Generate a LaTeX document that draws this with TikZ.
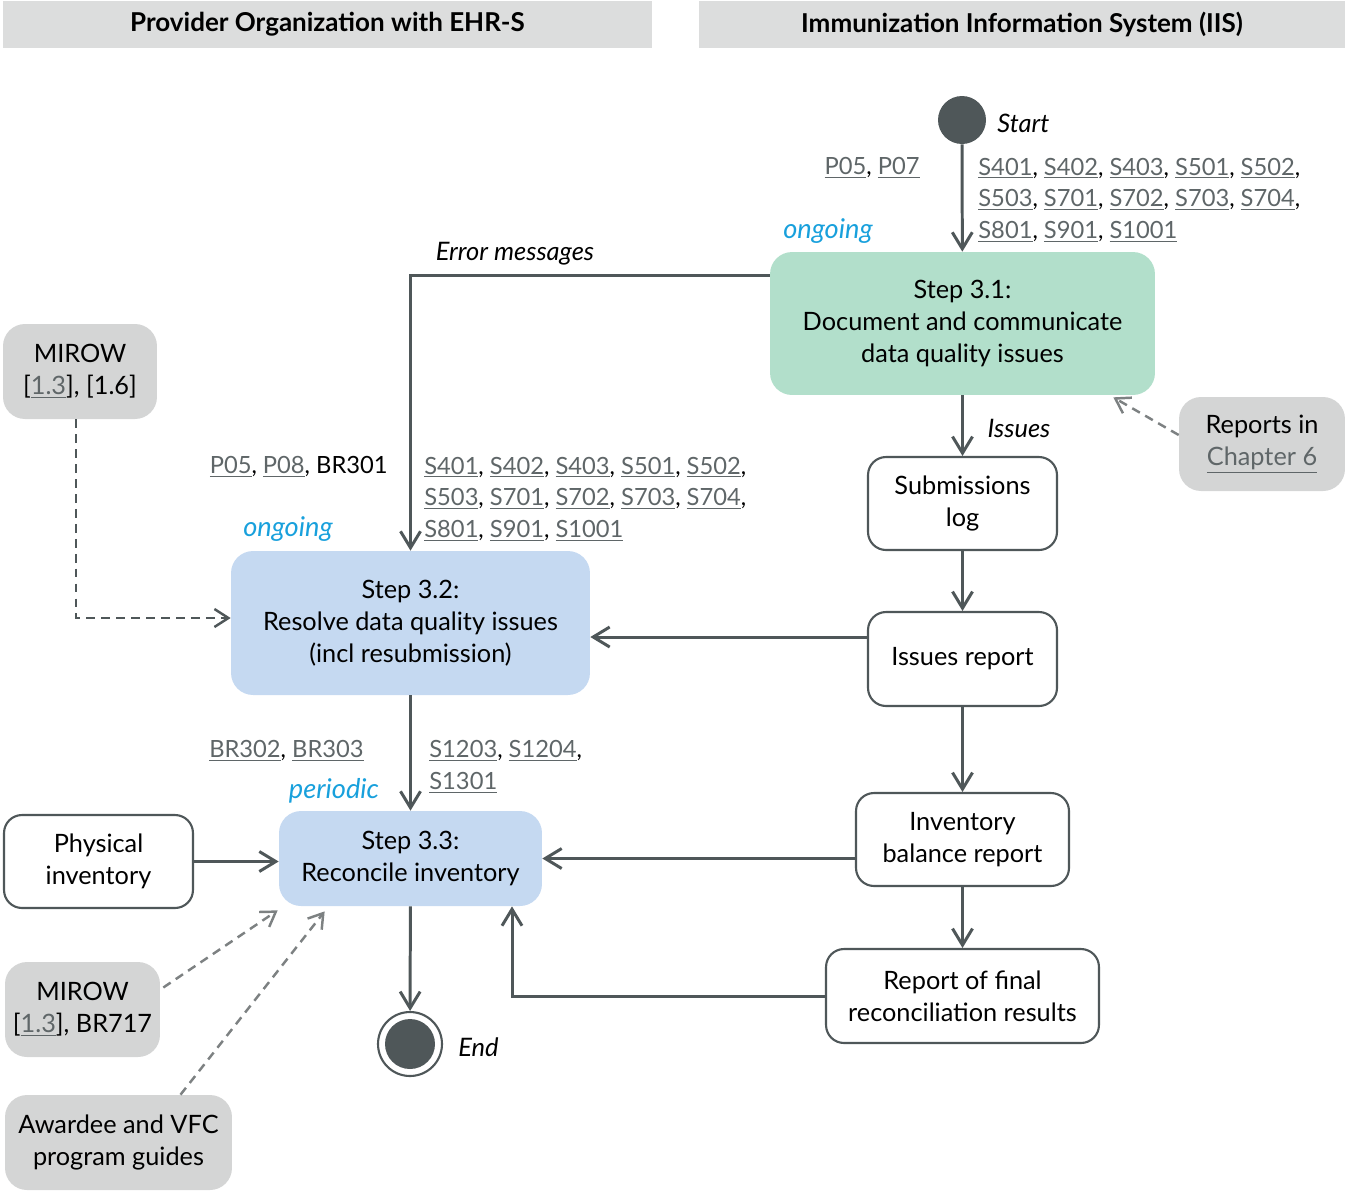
\documentclass[tikz,border=0pt]{standalone}
\usepackage{fontspec}
\setmainfont{Lato}
\usepackage{tikz}
\usetikzlibrary{arrows.meta,calc}
\definecolor{flowgray}{RGB}{79,87,89}
\definecolor{dashgray}{RGB}{125,129,130}
\definecolor{linkgray}{RGB}{95,102,104}
\definecolor{stepgreen}{RGB}{178,223,203}
\definecolor{stepblue}{RGB}{197,217,241}
\definecolor{refgray}{RGB}{212,213,213}
\definecolor{hdrgray}{RGB}{220,221,221}
\definecolor{freqblue}{RGB}{24,160,220}
\newcommand{\lnk}[1]{\textcolor{linkgray}{\underline{#1}}}

\begin{document}
\begin{tikzpicture}[x=0.02cm,y=-0.02cm,font=\fontsize{13.5}{18.1}\selectfont]
\tikzset{
    header/.style={fill=hdrgray,font=\fontsize{14.8}{18}\selectfont\bfseries,inner sep=0pt},
    boxtext/.style={font=\fontsize{14.4}{18.2}\selectfont,align=center,inner sep=0pt},
    stepgreen/.style={boxtext,fill=stepgreen,rounded corners=0.44cm},
    stepblue/.style={boxtext,fill=stepblue,rounded corners=0.44cm},
    docbox/.style={boxtext,draw=flowgray,line width=1.2pt,fill=white,rounded corners=0.36cm},
    refbox/.style={boxtext,fill=refgray,rounded corners=0.44cm},
    lnklbl/.style={align=left,inner sep=0pt,yshift=-1.2pt},
    freq/.style={text=freqblue,font=\fontsize{15.5}{18}\selectfont\itshape,inner sep=0pt,yshift=-1.2pt},
    flowlbl/.style={font=\fontsize{14.5}{18}\selectfont\itshape,inner sep=0pt,yshift=-1.2pt},
    flow/.style={draw=flowgray,line width=1.7pt,-{Straight Barb[length=3.3mm,width=4mm]}},
    ref/.style={draw=dashgray,line width=1.4pt,dash pattern=on 5pt off 3.5pt,-{Straight Barb[length=2.8mm,width=3.6mm]}}
}
\useasboundingbox (0,0) rectangle (1345,1191);

% swimlane headers
\node[header,minimum width=12.98cm,minimum height=0.94cm] (hdrprov) at (327.5,24.5) {Provider Organization with EHR-S};
\node[header,minimum width=12.92cm,minimum height=0.94cm] (hdriis) at (1022,24.5) {Immunization Information System (IIS)};

% IIS side
\node[circle,fill=flowgray,minimum size=0.96cm,inner sep=0pt] (start) at (962,120) {};
\node[flowlbl,anchor=west] (startlbl) at (997,121) {Start};
\node[stepgreen,minimum width=7.7cm,minimum height=2.86cm] (step1) at (962.5,323.5) {Step 3.1:\\Document and communicate\\data quality issues};
\node[docbox,minimum width=3.78cm,minimum height=1.86cm] (sublog) at (962.5,503.5) {Submissions\\log};
\node[docbox,minimum width=3.78cm,minimum height=1.88cm] (issrep) at (962.5,659) {Issues report};
\node[docbox,minimum width=4.26cm,minimum height=1.86cm] (invrep) at (962.5,839.5) {Inventory\\balance report};
\node[docbox,minimum width=5.46cm,minimum height=1.88cm] (finrep) at (962.5,996) {Report of final\\reconciliation results};
\node[refbox,minimum width=3.32cm,minimum height=1.88cm] (rptch6) at (1262,444) {Reports in\\\lnk{Chapter 6}};

% provider side
\node[stepblue,minimum width=7.18cm,minimum height=2.88cm] (step2) at (410.5,623) {Step 3.2:\\Resolve data quality issues\\(incl resubmission)};
\node[stepblue,minimum width=5.26cm,minimum height=1.9cm] (step3) at (410.5,858.5) {Step 3.3:\\Reconcile inventory};
\node[docbox,minimum width=3.78cm,minimum height=1.86cm] (physinv) at (98.5,861.5) {Physical\\inventory};
\node[circle,draw=flowgray,line width=1.2pt,minimum size=1.28cm,inner sep=0pt,
    path picture={\fill[flowgray] (path picture bounding box.center) circle (0.5cm);}] (end) at (410,1044) {};
\node[flowlbl,anchor=west] (endlbl) at (458,1045) {End};
\node[refbox,minimum width=3.08cm,minimum height=1.9cm] (mirow1) at (80,371.5) {MIROW\\{[}\lnk{1.3}{]}, [1.6]};
\node[refbox,minimum width=3.1cm,minimum height=1.9cm] (mirow2) at (82.5,1009.5) {MIROW\\{[}\lnk{1.3}{]}, BR717};
\node[refbox,minimum width=4.54cm,minimum height=1.9cm] (guides) at (118.5,1142.5) {Awardee and VFC\\program guides};

% references and frequencies
\node[lnklbl,anchor=east] (p1lbl) at (920,166) {\lnk{P05}, \lnk{P07}};
\node[lnklbl,anchor=west] (s1lbl) at (978,198) {\lnk{S401}, \lnk{S402}, \lnk{S403}, \lnk{S501}, \lnk{S502},\\\lnk{S503}, \lnk{S701}, \lnk{S702}, \lnk{S703}, \lnk{S704},\\\lnk{S801}, \lnk{S901}, \lnk{S1001}};
\node[freq] (freq1) at (828,229) {ongoing};
\node[lnklbl,anchor=east] (p2lbl) at (388,465) {\lnk{P05}, \lnk{P08}, BR301};
\node[lnklbl,anchor=west] (s2lbl) at (424,497) {\lnk{S401}, \lnk{S402}, \lnk{S403}, \lnk{S501}, \lnk{S502},\\\lnk{S503}, \lnk{S701}, \lnk{S702}, \lnk{S703}, \lnk{S704},\\\lnk{S801}, \lnk{S901}, \lnk{S1001}};
\node[freq] (freq2) at (288,527) {ongoing};
\node[lnklbl,anchor=east] (p3lbl) at (364,749) {\lnk{BR302}, \lnk{BR303}};
\node[lnklbl,anchor=west] (s3lbl) at (429,765) {\lnk{S1203}, \lnk{S1204},\\\lnk{S1301}};
\node[freq] (freq3) at (334,789) {periodic};
\node[flowlbl] (errlbl) at (515,252) {Error messages};
\node[flowlbl] (isslbl) at (1019,426) {Issues};

% main flow
\draw[flow] (start) -- (step1);
\draw[flow] (step1) -- (sublog);
\draw[flow] (sublog) -- (issrep);
\draw[flow] (issrep) -- (invrep);
\draw[flow] (invrep) -- (finrep);
\draw[flow] ($(step1.west)+(0,-48)$) -| (step2.north);
\draw[flow] ($(issrep.west)+(0,-22)$) coordinate (issout) -- (issout -| step2.east);
\draw[flow] (invrep.west |- step3.east) -- (step3.east);
\draw[flow] (finrep.west) -| ($(step3.south)+(101.5,0)$);
\draw[flow] (step2) -- (step3);
\draw[flow] (physinv.east) -- (physinv.east -| step3.west);
\draw[flow] (step3) -- (end);

% inputs
\draw[ref,draw=flowgray] ($(mirow1.south)+(-4,0)$) |- ($(step2.west)+(0,-5)$);
\draw[ref] ($(rptch6.west)+(0,-9)$) -- ($(step1.south east)+(-42,2)$);
\draw[ref] ($(mirow2.east)+(3,-22)$) -- ($(step3.south west)+(-1,4)$);
\draw[ref] ($(guides.north)+(62,0)$) -- ($(step3.south west)+(46,5)$);
\end{tikzpicture}
\end{document}
